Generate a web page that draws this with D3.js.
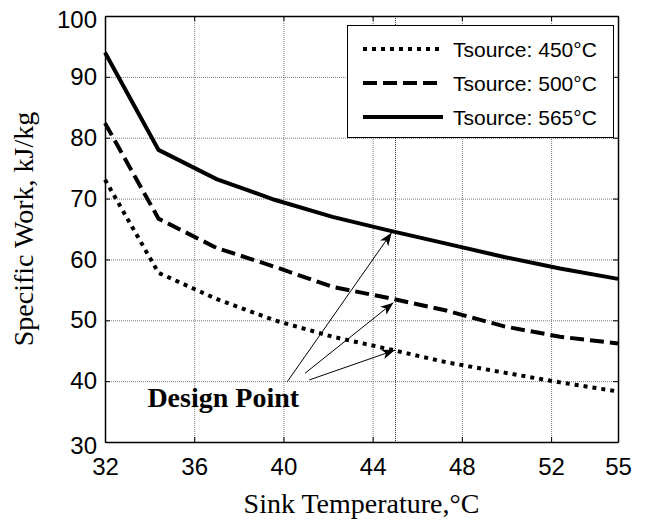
<!DOCTYPE html>
<html>
<head>
<meta charset="utf-8">
<script src="https://cdn.jsdelivr.net/npm/d3@7"></script>
<style>
  body { margin: 0; background: #fff; }
  svg { display: block; }
  .tick text { font-family: 'Liberation Sans', Arial, sans-serif; font-size: 24px; fill: #000; }
  .axis-title { font-family: 'Liberation Serif', 'Times New Roman', serif; font-size: 28px; fill: #000; }
</style>
</head>
<body>
<div id="chart"></div>
<script>
'use strict';

// data
var sinkTemps = [32, 34.4, 37, 39.6, 42.2, 44.8, 47.3, 49.9, 52.4, 55];
var work450 = [73.1, 57.8, 53.5, 50.0, 47.3, 45.2, 43.1, 41.4, 39.8, 38.3];
var work500 = [82.4, 66.7, 61.9, 58.8, 55.5, 53.6, 51.6, 49.0, 47.3, 46.2];
var work565 = [94.0, 78.0, 73.2, 69.8, 67.0, 64.7, 62.6, 60.4, 58.5, 56.8];
var seriesNames = ['Tsource: 450°C', 'Tsource: 500°C', 'Tsource: 565°C'];
var xTicks = [32, 36, 40, 44, 48, 52, 55];
var yTicks = [30, 40, 50, 60, 70, 80, 90, 100];

// design point annotation (data units)
var designTemp = 45;
var arrowTips = [[44.85, 64.4], [44.93, 52.9], [45.0, 45.1]];
var arrowTails = [[40.17, 39.9], [40.97, 41.3], [41.16, 40.2]];
var designLabelAt = [33.9, 35.8];

var width = 649, height = 521,
    margin = {top: 16, right: 31, bottom: 79, left: 105},
    plotW = width - margin.left - margin.right,
    plotH = height - margin.top - margin.bottom;

var dashes = ['4,5', '14,6', null];

var svg = d3.select('#chart').append('svg')
  .attr('width', width)
  .attr('height', height);

var g = svg.append('g')
  .attr('transform', 'translate(' + margin.left + ',' + margin.top + ')');

var x = d3.scaleLinear().domain([32, 55]).range([0, plotW]),
    y = d3.scaleLinear().domain([30, 100]).range([plotH, 0]);

/**
  grid
*/
var gridX = g.append('g')
  .attr('transform', 'translate(0,' + plotH + ')')
  .call(d3.axisBottom(x).tickValues(xTicks.slice(1, -1)).tickSize(plotH).tickFormat(''));
gridX.selectAll('line').attr('transform', 'scale(1,-1)');

var gridY = g.append('g')
  .call(d3.axisLeft(y).tickValues(yTicks.slice(1, -1)).tickSize(-plotW).tickFormat(''));

[gridX, gridY].forEach(function (sel) {
  sel.select('.domain').remove();
  sel.selectAll('line')
    .attr('stroke', '#7a7a7a')
    .attr('stroke-dasharray', '1,1');
});

// design temperature marker line
g.append('line')
  .attr('x1', Math.round(x(designTemp)) + 0.5)
  .attr('x2', Math.round(x(designTemp)) + 0.5)
  .attr('y1', 0)
  .attr('y2', plotH)
  .attr('stroke', '#333')
  .attr('stroke-dasharray', '1,1');

/**
  series
*/
var series = [work450, work500, work565].map(function (vals, i) {
  return {
    name: seriesNames[i],
    dash: dashes[i],
    points: sinkTemps.map(function (t, j) { return [t, vals[j]]; })
  };
});

var line = d3.line()
  .x(function (d) { return x(d[0]); })
  .y(function (d) { return y(d[1]); });

g.selectAll('.series')
  .data(series)
  .enter().append('path')
  .attr('class', 'series')
  .attr('d', function (d) { return line(d.points); })
  .attr('fill', 'none')
  .attr('stroke', '#000')
  .attr('stroke-width', 4)
  .attr('stroke-dasharray', function (d) { return d.dash; });

/**
  axes (ticks point inward on all four sides)
*/
var axisB = g.append('g')
  .attr('transform', 'translate(0,' + plotH + ')')
  .call(d3.axisBottom(x).tickValues(xTicks).tickSizeInner(-5).tickSizeOuter(0).tickPadding(16));

var axisL = g.append('g')
  .call(d3.axisLeft(y).tickValues(yTicks).tickSizeInner(-5).tickSizeOuter(0).tickPadding(8));
axisL.selectAll('.tick text')
  .attr('transform', function (d) { return (d === 100 || d === 30) ? 'translate(0,4)' : null; });

var axisT = g.append('g')
  .call(d3.axisTop(x).tickValues(xTicks).tickSizeInner(-5).tickSizeOuter(0).tickFormat(''));

var axisR = g.append('g')
  .attr('transform', 'translate(' + plotW + ',0)')
  .call(d3.axisRight(y).tickValues(yTicks).tickSizeInner(-5).tickSizeOuter(0).tickFormat(''));

[axisB, axisL, axisT, axisR].forEach(function (sel) {
  sel.select('.domain').attr('stroke', '#000').attr('stroke-width', 1.5);
  sel.selectAll('.tick line').attr('stroke', '#000');
});

/**
  design point annotation
*/
svg.append('defs').append('marker')
  .attr('id', 'head')
  .attr('viewBox', '-14 -6 16 12')
  .attr('markerUnits', 'userSpaceOnUse')
  .attr('markerWidth', 16)
  .attr('markerHeight', 12)
  .attr('refX', 0)
  .attr('refY', 0)
  .attr('orient', 'auto')
  .append('path')
  .attr('d', 'M0,0L-13,-5L-9.5,0L-13,5Z')
  .attr('fill', '#000');

g.selectAll('.arrow')
  .data(arrowTips)
  .enter().append('line')
  .attr('class', 'arrow')
  .attr('x1', function (d, i) { return x(arrowTails[i][0]); })
  .attr('y1', function (d, i) { return y(arrowTails[i][1]); })
  .attr('x2', function (d) { return x(d[0]); })
  .attr('y2', function (d) { return y(d[1]); })
  .attr('stroke', '#000')
  .attr('stroke-width', 1)
  .attr('marker-end', 'url(#head)');

g.append('text')
  .attr('x', x(designLabelAt[0]))
  .attr('y', y(designLabelAt[1]))
  .attr('font-family', "'Liberation Serif', 'Times New Roman', serif")
  .attr('font-size', 28)
  .attr('font-weight', 'bold')
  .text('Design Point');

/**
  legend
*/
var legend = svg.append('g').attr('transform', 'translate(347,25)');

legend.append('rect')
  .attr('x', 0.5)
  .attr('y', 0.5)
  .attr('width', 266)
  .attr('height', 112)
  .attr('fill', '#fff')
  .attr('stroke', '#000')
  .attr('stroke-width', 1);

var rows = legend.selectAll('.row')
  .data(series)
  .enter().append('g')
  .attr('class', 'row')
  .attr('transform', function (d, i) { return 'translate(0,' + (24 + i * 34) + ')'; });

rows.append('line')
  .attr('x1', 16)
  .attr('x2', 96)
  .attr('stroke', '#000')
  .attr('stroke-width', 4)
  .attr('stroke-dasharray', function (d) { return d.dash; });

rows.append('text')
  .attr('x', 106)
  .attr('y', 7.5)
  .attr('font-family', "'Liberation Sans', Arial, sans-serif")
  .attr('font-size', 21)
  .text(function (d) { return d.name; });

/**
  axis titles
*/
svg.append('text')
  .attr('class', 'axis-title')
  .attr('x', margin.left + plotW / 2)
  .attr('y', 513)
  .attr('text-anchor', 'middle')
  .text('Sink Temperature,°C');

svg.append('text')
  .attr('class', 'axis-title')
  .attr('transform', 'translate(33,' + (margin.top + plotH / 2) + ') rotate(-90)')
  .attr('text-anchor', 'middle')
  .text('Specific Work, kJ/kg');
</script>
</body>
</html>
